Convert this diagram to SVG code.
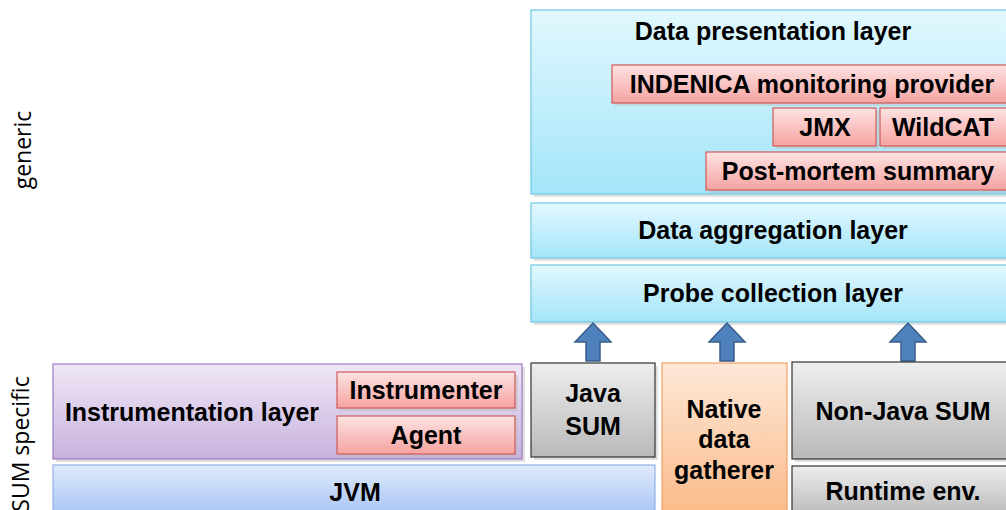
<svg xmlns="http://www.w3.org/2000/svg" width="1006" height="510" viewBox="0 0 1006 510">
  <defs>
    <linearGradient id="gCyan" x1="0" y1="0" x2="0" y2="1">
      <stop offset="0" stop-color="#e2f8fe"/>
      <stop offset="1" stop-color="#a3e5f9"/>
    </linearGradient>
    <linearGradient id="gRed" x1="0" y1="0" x2="0" y2="1">
      <stop offset="0" stop-color="#fde3e2"/>
      <stop offset="1" stop-color="#f5a3a1"/>
    </linearGradient>
    <linearGradient id="gPurple" x1="0" y1="0" x2="0" y2="1">
      <stop offset="0" stop-color="#efe7f6"/>
      <stop offset="1" stop-color="#c8b2de"/>
    </linearGradient>
    <linearGradient id="gBlue" x1="0" y1="0" x2="0" y2="1">
      <stop offset="0" stop-color="#e0eafc"/>
      <stop offset="1" stop-color="#a8c5f4"/>
    </linearGradient>
    <linearGradient id="gGray" x1="0" y1="0" x2="0" y2="1">
      <stop offset="0" stop-color="#eeeeee"/>
      <stop offset="1" stop-color="#b9b9b9"/>
    </linearGradient>
    <linearGradient id="gOrange" x1="0" y1="0" x2="0" y2="1">
      <stop offset="0" stop-color="#fde8d8"/>
      <stop offset="1" stop-color="#fbba88"/>
    </linearGradient>
    <!-- block arrow pointing up, tip at origin -->
    <path id="upArrow" d="M0,0 L18,19 L7,19 L7,38 L-7,38 L-7,19 L-18,19 Z"/>
  </defs>
  <style>
    .lbl { font-family: "Liberation Sans", Arial, sans-serif; font-weight: bold; font-size: 25px; fill: #000; text-anchor: middle; }
    .side { font-family: "Open Sans", "Noto Sans", sans-serif; font-size: 23px; fill: #000; text-anchor: middle; }
    .shadow { fill: #bbbbbb; opacity: 0.45; }
    .cyan { fill: url(#gCyan); stroke: #6fc6e2; stroke-width: 1.2; }
    .red { fill: url(#gRed); stroke: #cf5a58; stroke-width: 1.2; }
    .purple { fill: url(#gPurple); stroke: #9b7cc2; stroke-width: 1.2; }
    .blue { fill: url(#gBlue); stroke: #8fb1e6; stroke-width: 1.2; }
    .gray { fill: url(#gGray); stroke: #333333; stroke-width: 1.2; }
    .orange { fill: url(#gOrange); stroke: #f4a266; stroke-width: 1.2; }
    .arrow { fill: #4f81bd; stroke: #385d8a; stroke-width: 1.5; }
  </style>

  <rect width="1006" height="510" fill="#ffffff"/>

  <!-- side captions -->
  <text class="side" transform="translate(31,150) rotate(-90)">generic</text>
  <text class="side" transform="translate(29,444) rotate(-90)">SUM specific</text>

  <!-- generic layers -->
  <g id="data-presentation">
    <rect class="shadow" x="534" y="13" width="476" height="184"/>
    <rect class="cyan" x="531" y="10" width="478" height="184"/>
    <text class="lbl" x="773" y="40">Data presentation layer</text>
  </g>
  <g id="indenica">
    <rect class="shadow" x="615" y="68" width="395" height="38"/>
    <rect class="red" x="612" y="65" width="397" height="38"/>
    <text class="lbl" x="812" y="93">INDENICA monitoring provider</text>
  </g>
  <g id="jmx">
    <rect class="shadow" x="776" y="111" width="103" height="38"/>
    <rect class="red" x="773" y="108" width="103" height="38"/>
    <text class="lbl" x="825" y="136">JMX</text>
  </g>
  <g id="wildcat">
    <rect class="shadow" x="883" y="111" width="127" height="38"/>
    <rect class="red" x="880" y="108" width="129" height="38"/>
    <text class="lbl" x="943" y="136">WildCAT</text>
  </g>
  <g id="post-mortem">
    <rect class="shadow" x="709" y="155" width="301" height="38"/>
    <rect class="red" x="706" y="152" width="303" height="38"/>
    <text class="lbl" x="858" y="180">Post-mortem summary</text>
  </g>
  <g id="data-aggregation">
    <rect class="shadow" x="534" y="206" width="476" height="55"/>
    <rect class="cyan" x="531" y="203" width="478" height="55"/>
    <text class="lbl" x="773" y="239">Data aggregation layer</text>
  </g>
  <g id="probe-collection">
    <rect class="shadow" x="534" y="268" width="476" height="57"/>
    <rect class="cyan" x="531" y="265" width="478" height="57"/>
    <text class="lbl" x="773" y="302">Probe collection layer</text>
  </g>

  <!-- connectors -->
  <g id="connectors">
    <use href="#upArrow" class="arrow" transform="translate(593,323)"/>
    <use href="#upArrow" class="arrow" transform="translate(727,323)"/>
    <use href="#upArrow" class="arrow" transform="translate(908,323)"/>
  </g>

  <!-- SUM specific layers -->
  <g id="instrumentation">
    <rect class="shadow" x="56" y="367" width="469" height="95"/>
    <rect class="purple" x="53" y="364" width="469" height="95"/>
    <text class="lbl" x="192" y="421">Instrumentation layer</text>
  </g>
  <g id="instrumenter">
    <rect class="shadow" x="340" y="375" width="178" height="36"/>
    <rect class="red" x="337" y="372" width="178" height="36"/>
    <text class="lbl" x="426" y="399">Instrumenter</text>
  </g>
  <g id="agent">
    <rect class="shadow" x="340" y="419" width="178" height="38"/>
    <rect class="red" x="337" y="416" width="178" height="38"/>
    <text class="lbl" x="426" y="444">Agent</text>
  </g>
  <g id="jvm">
    <rect class="blue" x="53" y="465" width="602" height="50"/>
    <text class="lbl" x="355" y="501">JVM</text>
  </g>
  <g id="java-sum">
    <rect class="shadow" x="534" y="366" width="124" height="94"/>
    <rect class="gray" x="531" y="363" width="124" height="94"/>
    <text class="lbl" x="593" y="402">Java</text>
    <text class="lbl" x="593" y="435">SUM</text>
  </g>
  <g id="native-gatherer">
    <rect class="orange" x="662" y="363" width="125" height="152"/>
    <text class="lbl" x="724" y="418">Native</text>
    <text class="lbl" x="724" y="448">data</text>
    <text class="lbl" x="724" y="479">gatherer</text>
  </g>
  <g id="non-java-sum">
    <rect class="shadow" x="795" y="365" width="215" height="97"/>
    <rect class="gray" x="792" y="362" width="218" height="97"/>
    <text class="lbl" x="903" y="420">Non-Java SUM</text>
  </g>
  <g id="runtime-env">
    <rect class="gray" x="792" y="466" width="218" height="50"/>
    <text class="lbl" x="903" y="500">Runtime env.</text>
  </g>
</svg>
